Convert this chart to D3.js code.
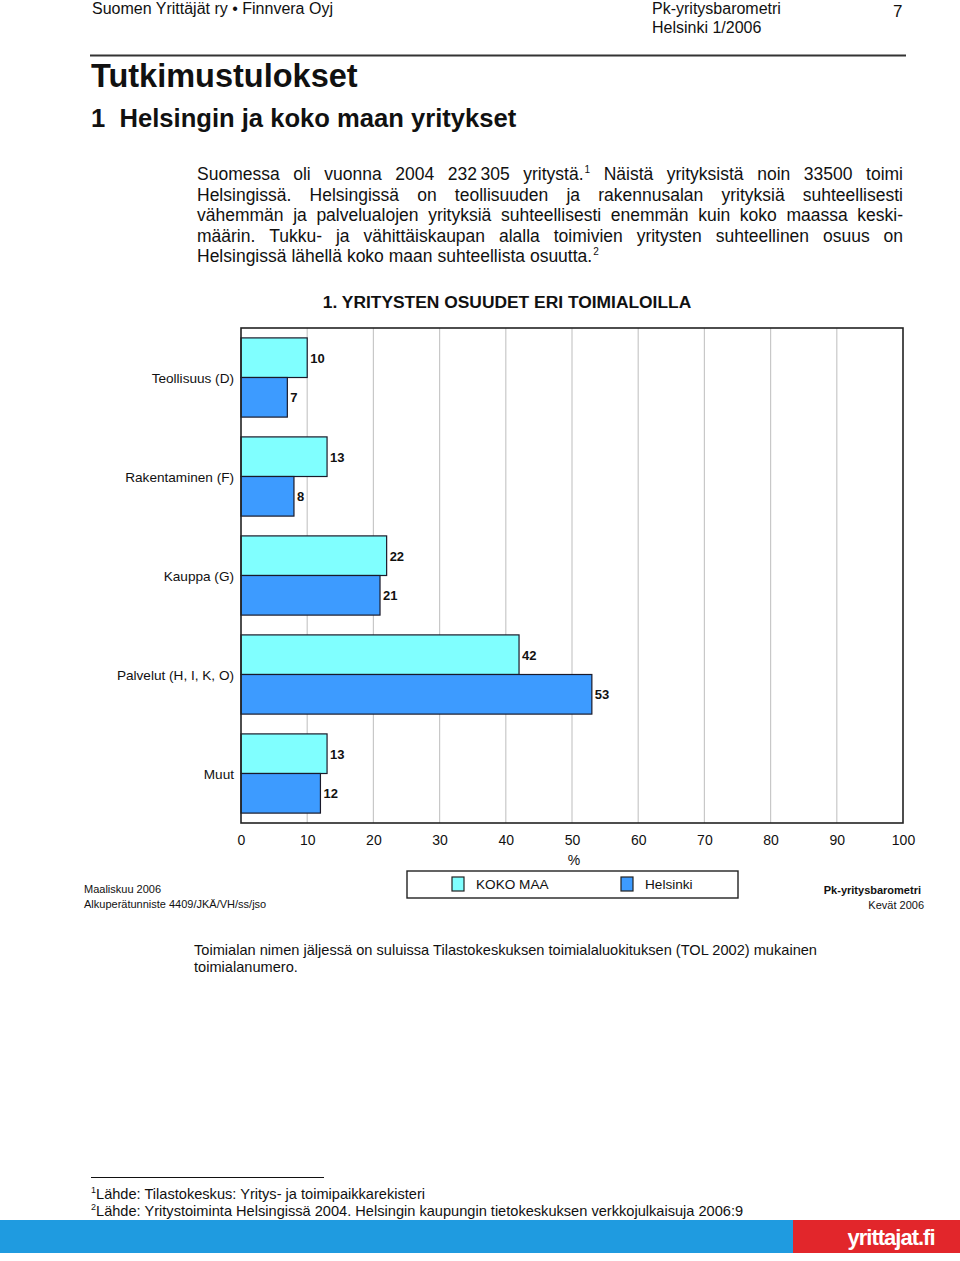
<!DOCTYPE html>
<html><head><meta charset="utf-8">
<script src="https://cdn.jsdelivr.net/npm/d3@7"></script>
<style>
body{margin:0;background:#fff;}
svg text{font-family:"Liberation Sans",Arial,sans-serif;fill:#111;}
</style></head><body>
<svg id="c" width="960" height="1261"></svg>
<script>
const categories = ["Teollisuus (D)", "Rakentaminen (F)", "Kauppa (G)", "Palvelut (H, I, K, O)", "Muut"];
const seriesNames = ["KOKO MAA", "Helsinki"];
const kokoMaa = [10, 13, 22, 42, 13];
const helsinki = [7, 8, 21, 53, 12];
const xTicks = [0,10,20,30,40,50,60,70,80,90,100];
const colors = ["#80ffff", "#3d9bff"];

const svg = d3.select("#c");

// Header
svg.append("text").attr("x",92).attr("y",14).attr("font-size",16).text("Suomen Yrittäjät ry • Finnvera Oyj");
svg.append("text").attr("x",652).attr("y",14).attr("font-size",16).text("Pk-yritysbarometri");
svg.append("text").attr("x",652).attr("y",33).attr("font-size",16).text("Helsinki 1/2006");
svg.append("text").attr("x",893).attr("y",17).attr("font-size",17).text("7");
svg.append("line").attr("x1",90).attr("x2",906).attr("y1",55.5).attr("y2",55.5).attr("stroke","#333").attr("stroke-width",2);
svg.append("text").attr("x",91).attr("y",87).attr("font-size",32.5).attr("font-weight","bold").text("Tutkimustulokset");
svg.append("text").attr("x",91).attr("y",127).attr("font-size",25.6).attr("font-weight","bold").attr("xml:space","preserve").text("1  Helsingin ja koko maan yritykset");

// Justified paragraph
const para = [
 ["Suomessa","oli","vuonna","2004","232\u2009305","yritystä.¹","Näistä","yrityksistä","noin","33500","toimi"],
 ["Helsingissä.","Helsingissä","on","teollisuuden","ja","rakennusalan","yrityksiä","suhteellisesti"],
 ["vähemmän","ja","palvelualojen","yrityksiä","suhteellisesti","enemmän","kuin","koko","maassa","keski-"],
 ["määrin.","Tukku-","ja","vähittäiskaupan","alalla","toimivien","yritysten","suhteellinen","osuus","on"],
 ["Helsingissä","lähellä","koko","maan","suhteellista","osuutta.²"]
];
const px0=197, px1=903;
para.forEach((words,li)=>{
  const y = 180 + li*20.6;
  const g = svg.append("g");
  const nodes = words.map(w=>{
    const sup = w.endsWith("¹")||w.endsWith("²");
    const base = sup? w.slice(0,-1): w;
    const t = g.append("text").attr("y",y).attr("font-size",17.5);
    t.append("tspan").text(base);
    if(sup) t.append("tspan").attr("font-size",10).attr("dy",-7).attr("dx",1).text(w.endsWith("¹")?"1":"2");
    return t;
  });
  const widths = nodes.map(n=>n.node().getComputedTextLength()+ (n.selectAll("tspan").size()>1?1:0));
  const total = d3.sum(widths);
  const last = li===para.length-1;
  const gap = last ? 4.9 : (px1-px0-total)/(words.length-1);
  let x=px0;
  nodes.forEach((n,i)=>{ n.attr("x",x); x+=widths[i]+gap; });
});

// Chart
svg.append("text").attr("x",507).attr("y",308).attr("text-anchor","middle").attr("font-size",17.4).attr("font-weight","bold").text("1. YRITYSTEN OSUUDET ERI TOIMIALOILLA");

const x = d3.scaleLinear().domain([0,100]).range([241,903]);
const y0 = d3.scaleBand().domain(categories).range([328,823]).paddingInner(0.2).paddingOuter(0.1);
const y1 = d3.scaleBand().domain(seriesNames).range([0,y0.bandwidth()]);

// gridlines
svg.append("g").selectAll("line").data(xTicks.slice(1,-1)).join("line")
  .attr("x1",d=>x(d)).attr("x2",d=>x(d)).attr("y1",328).attr("y2",823)
  .attr("stroke","#c8c8c8").attr("stroke-width",1.2);

const data = categories.map((c,i)=>({cat:c, vals:[{s:seriesNames[0],v:kokoMaa[i]},{s:seriesNames[1],v:helsinki[i]}]}));
const groups = svg.append("g").selectAll("g").data(data).join("g")
  .attr("transform",d=>`translate(0,${y0(d.cat)})`);
groups.selectAll("rect").data(d=>d.vals).join("rect")
  .attr("x",x(0)).attr("y",d=>y1(d.s)).attr("width",d=>x(d.v)-x(0)).attr("height",y1.bandwidth())
  .attr("fill",(d,i)=>colors[i]).attr("stroke","#1a1a2a").attr("stroke-width",1.2);
groups.selectAll("text.v").data(d=>d.vals).join("text").attr("class","v")
  .attr("x",d=>x(d.v)+3).attr("y",d=>y1(d.s)+y1.bandwidth()/2+5).attr("font-size",13).attr("font-weight","bold").text(d=>d.v);

// category labels
svg.append("g").selectAll("text").data(categories).join("text")
  .attr("x",234).attr("y",d=>y0(d)+y0.bandwidth()/2+5).attr("text-anchor","end").attr("font-size",13.6).text(d=>d);

// frame
svg.append("rect").attr("x",241).attr("y",328).attr("width",662).attr("height",495).attr("fill","none").attr("stroke","#222").attr("stroke-width",1.6);

// x axis
const ax = svg.append("g").attr("transform","translate(0,823)").call(d3.axisBottom(x).tickValues(xTicks).tickSize(0).tickPadding(12));
ax.select(".domain").remove();
ax.selectAll("text").attr("font-size",14).attr("font-family","Liberation Sans, Arial, sans-serif").attr("fill","#111");
svg.append("text").attr("x",x(50)+2).attr("y",865).attr("text-anchor","middle").attr("font-size",14).text("%");

// legend
svg.append("rect").attr("x",407).attr("y",871).attr("width",331).attr("height",27).attr("fill","#fff").attr("stroke","#222").attr("stroke-width",1.4);
const lg = svg.append("g").selectAll("g").data(seriesNames).join("g")
  .attr("transform",(d,i)=>`translate(${452+i*169},877)`);
lg.append("rect").attr("width",12).attr("height",14).attr("fill",(d,i)=>colors[i]).attr("stroke","#222").attr("stroke-width",1.2);
lg.append("text").attr("x",24).attr("y",12).attr("font-size",13.6).text(d=>d);

// chart footer
svg.append("text").attr("x",84).attr("y",893).attr("font-size",11).text("Maaliskuu 2006");
svg.append("text").attr("x",84).attr("y",908).attr("font-size",11).text("Alkuperätunniste 4409/JKÄ/VH/ss/jso");
svg.append("text").attr("x",921).attr("y",894).attr("text-anchor","end").attr("font-size",11).attr("font-weight","bold").text("Pk-yritysbarometri");
svg.append("text").attr("x",924).attr("y",909).attr("text-anchor","end").attr("font-size",11).text("Kevät 2006");

// note
svg.append("text").attr("x",194).attr("y",955).attr("font-size",14.6).text("Toimialan nimen jäljessä on suluissa Tilastokeskuksen toimialaluokituksen (TOL 2002) mukainen");
svg.append("text").attr("x",194).attr("y",972).attr("font-size",14.6).text("toimialanumero.");

// footnotes
svg.append("line").attr("x1",91).attr("x2",324).attr("y1",1177.5).attr("y2",1177.5).attr("stroke","#111").attr("stroke-width",1);
const fn = [["1","Lähde: Tilastokeskus: Yritys- ja toimipaikkarekisteri",1199],["2","Lähde: Yritystoiminta Helsingissä 2004. Helsingin kaupungin tietokeskuksen verkkojulkaisuja 2006:9",1216]];
fn.forEach(f=>{
  const t = svg.append("text").attr("x",91).attr("y",f[2]).attr("font-size",14.6);
  t.append("tspan").attr("font-size",9).attr("dy",-6).text(f[0]);
  t.append("tspan").attr("dy",6).text(f[1]);
});

// bottom band
svg.append("rect").attr("x",0).attr("y",1220).attr("width",793).attr("height",33).attr("fill","#1f9be0");
svg.append("rect").attr("x",793).attr("y",1220).attr("width",167).attr("height",33).attr("fill","#e2262b");
svg.append("text").attr("x",891).attr("y",1245).attr("text-anchor","middle").attr("font-size",22).attr("font-weight","bold")
  .attr("font-family","Liberation Sans Narrow, Liberation Sans, Arial, sans-serif").style("fill","#fff").attr("letter-spacing",-1).text("yrittajat.fi");
</script>
</body></html>
